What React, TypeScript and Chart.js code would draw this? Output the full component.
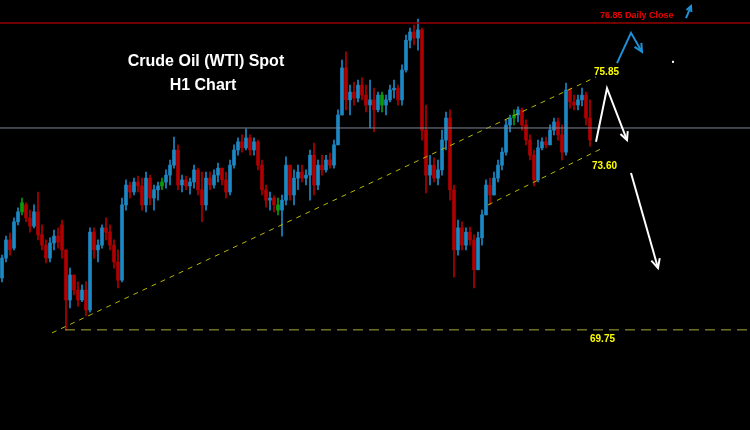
import React, { useEffect, useRef } from "react";
import { Chart, registerables } from "chart.js";

Chart.register(...registerables);

// Hourly candles (WTI spot)
const OPEN = [70.95,71.41,71.83,71.64,72.25,72.48,72.64,72.34,72.15,72.48,71.95,71.71,71.41,71.76,71.92,72.18,71.60,70.44,71.02,70.67,70.44,70.67,70.21,72.01,71.60,71.71,72.11,72.01,71.71,71.32,70.90,72.64,73.10,72.94,73.17,73.08,72.64,73.26,72.80,72.99,73.08,73.17,73.33,73.56,73.91,73.10,73.22,73.08,73.17,73.45,72.99,72.64,73.26,73.10,73.33,73.49,73.22,72.94,73.56,73.91,74.10,73.96,74.19,73.91,74.10,73.56,72.99,72.75,72.80,72.64,72.52,72.75,73.56,72.87,73.26,73.40,73.26,73.33,73.79,73.10,73.56,73.45,73.68,73.56,74.03,74.72,75.81,75.07,75.25,75.11,75.41,75.18,74.95,75.07,74.84,75.18,74.95,75.07,75.30,75.34,75.07,75.76,76.45,76.64,76.50,76.69,74.37,73.33,73.56,73.26,73.45,74.14,74.65,72.99,71.60,72.11,71.71,72.01,71.83,71.14,71.88,72.41,73.10,72.87,73.26,73.56,73.86,74.49,74.65,74.72,74.84,74.49,74.14,73.79,73.22,73.96,74.10,74.03,74.37,74.56,74.26,73.86,75.30,75.02,74.95,75.07,75.18,74.65];
const HIGH = [71.48,71.92,71.99,72.34,72.57,72.80,72.69,72.52,72.64,72.94,72.18,71.83,71.88,72.06,72.11,72.29,71.60,71.18,71.02,70.86,70.79,70.86,72.11,72.11,71.83,72.18,72.34,72.18,71.83,71.60,72.80,73.22,73.17,73.26,73.31,73.26,73.40,73.33,73.10,73.17,73.26,73.45,73.68,74.21,74.03,73.33,73.31,73.26,73.56,73.49,73.40,73.40,73.40,73.45,73.61,73.49,73.40,73.68,74.03,74.19,74.26,74.40,74.26,74.19,74.14,73.68,73.10,72.94,72.85,72.80,72.87,73.75,73.56,73.45,73.56,73.56,73.45,73.91,74.07,73.68,73.79,73.79,73.84,74.14,74.84,75.99,76.18,75.41,75.48,75.53,75.58,75.41,75.53,75.34,75.25,75.25,75.18,75.41,75.53,75.41,75.88,76.57,76.73,76.80,76.94,76.73,74.95,73.79,73.73,73.68,74.37,74.79,74.84,73.10,72.29,72.25,72.11,72.13,71.95,72.01,72.52,73.22,73.26,73.40,73.68,73.96,74.61,74.72,74.84,74.91,74.88,74.61,74.26,73.91,74.14,74.19,74.21,74.49,74.65,74.65,74.49,75.46,75.34,75.18,75.18,75.34,75.25,75.07];
const LOW = [70.86,71.32,71.48,71.60,72.18,72.41,72.25,72.01,72.11,71.83,71.60,71.30,71.32,71.60,71.64,71.41,69.75,70.26,70.56,70.30,70.40,70.07,70.16,71.41,71.32,71.64,71.83,71.60,71.18,70.72,70.86,72.52,72.80,72.87,72.94,72.52,72.48,72.64,72.52,72.75,72.99,73.03,73.10,73.49,72.99,72.94,72.99,72.89,73.03,72.87,72.25,72.52,72.99,73.03,73.17,73.10,72.80,72.87,73.49,73.79,73.86,73.91,73.79,73.79,73.45,72.87,72.59,72.52,72.48,72.41,71.92,72.64,72.75,72.64,72.99,73.17,73.10,72.75,72.87,72.99,73.33,73.40,73.49,73.49,74.03,74.72,74.84,74.72,74.95,75.02,75.07,74.79,74.42,74.33,74.79,74.79,74.72,75.02,75.11,74.95,74.95,75.71,76.27,76.34,76.22,74.14,72.92,73.10,73.17,73.10,73.33,73.91,72.75,70.97,71.48,71.60,71.60,71.71,70.72,71.14,71.71,72.41,72.64,72.87,73.17,73.45,73.79,74.33,74.49,74.56,74.37,74.03,73.68,73.08,73.17,73.91,73.96,74.03,74.26,74.14,73.68,73.79,74.88,74.84,74.84,74.93,74.49,74.00];
const CLOSE = [71.41,71.83,71.60,72.25,72.48,72.69,72.34,72.15,72.48,71.95,71.71,71.41,71.76,71.92,71.78,71.60,70.44,71.02,70.67,70.44,70.67,70.21,72.01,71.60,71.71,72.11,72.01,71.71,71.32,70.90,72.64,73.10,72.94,73.17,73.08,72.64,73.26,72.80,72.99,73.08,73.17,73.33,73.56,73.91,73.10,73.22,73.08,73.17,73.45,72.99,72.64,73.26,73.10,73.33,73.49,73.22,72.94,73.56,73.91,74.10,73.96,74.19,73.91,74.10,73.56,72.99,72.75,72.80,72.64,72.52,72.75,73.56,72.87,73.26,73.40,73.26,73.33,73.79,73.10,73.56,73.45,73.68,73.56,74.03,74.72,75.81,75.07,75.25,75.11,75.41,75.18,74.95,75.07,74.84,75.18,74.95,75.07,75.30,75.34,75.07,75.76,76.45,76.64,76.50,76.69,74.37,73.33,73.56,73.26,73.45,74.14,74.65,72.99,71.60,72.11,71.71,72.01,71.83,71.14,71.88,72.41,73.10,72.87,73.26,73.56,73.86,74.49,74.65,74.72,74.84,74.49,74.14,73.79,73.22,73.96,74.10,74.03,74.37,74.56,74.26,73.86,75.30,75.02,74.95,75.07,75.18,74.65,74.14];
const GREEN_BARS = [5, 40, 69, 95, 128];

// Levels
const DAILY_CLOSE = 76.85;
const MID_LEVEL = 74.42;
const TARGET = 69.75;
// Trend lines [index, price]
const MAIN_TREND = [[12.5, 69.68], [148.5, 75.6]];
const CHANNEL_LOW = [[121.5, 72.64], [150.25, 73.96]];
const TARGET_LINE = [[15.75, TARGET], [187, TARGET]];
// Arrows (index, price paths)
const WHITE_ARROW_1 = [[148.5, 74.1], [151.25, 75.34], [156.25, 74.14]];
const WHITE_ARROW_2 = [[157.25, 73.38], [164, 71.18]];
const BLUE_ARROW_1 = [[153.75, 75.92], [157.25, 76.62], [160, 76.18]];
const BLUE_ARROW_2 = [[171, 76.96], [172.25, 77.24]];
const DOT = [167.75, 75.95];

const X_MIN = -0.5;
const X_MAX = 187;
const Y_MIN = 67.434;
const Y_MAX = 77.38;

const UP = "#1c88c4";
const DOWN = "#b00000";
const GREEN = "#0a9a0a";
const FONT = "'Liberation Sans', Arial, sans-serif";

export default function App() {
  const ref = useRef<HTMLCanvasElement | null>(null);

  useEffect(() => {
    if (!ref.current) return;
    const colors = OPEN.map((o, i) =>
      GREEN_BARS.includes(i) ? GREEN : CLOSE[i] >= o ? UP : DOWN
    );
    const wicks = OPEN.map((_, i) => ({ x: i, y: [LOW[i], HIGH[i]] }));
    const bodies = OPEN.map((o, i) => ({
      x: i,
      y: [Math.min(o, CLOSE[i]), Math.max(o, CLOSE[i])],
    }));
    const pts = (arr: number[][]) => arr.map(([x, y]) => ({ x, y }));

    const annot = {
      id: "annot",
      afterDatasetsDraw(chart: any) {
        const ctx = chart.ctx;
        const xs = chart.scales.x;
        const ys = chart.scales.y;
        const px = (v: number) => xs.getPixelForValue(v);
        const py = (v: number) => ys.getPixelForValue(v);
        const arrow = (path: number[][], color: string, w: number, head: number) => {
          ctx.save();
          ctx.strokeStyle = color;
          ctx.lineWidth = w;
          ctx.lineJoin = "miter";
          ctx.beginPath();
          path.forEach(([x, y], k) => {
            if (k === 0) ctx.moveTo(px(x), py(y));
            else ctx.lineTo(px(x), py(y));
          });
          ctx.stroke();
          const [x1, y1] = path[path.length - 2];
          const [x2, y2] = path[path.length - 1];
          const ax = px(x2), ay = py(y2);
          const ang = Math.atan2(ay - py(y1), ax - px(x1));
          ctx.beginPath();
          ctx.moveTo(ax - head * Math.cos(ang - 0.45), ay - head * Math.sin(ang - 0.45));
          ctx.lineTo(ax, ay);
          ctx.lineTo(ax - head * Math.cos(ang + 0.45), ay - head * Math.sin(ang + 0.45));
          ctx.stroke();
          ctx.restore();
        };
        arrow(WHITE_ARROW_1, "#ffffff", 2, 9);
        arrow(WHITE_ARROW_2, "#ffffff", 2, 10);
        arrow(BLUE_ARROW_1, "#1e90d8", 2, 9);
        arrow(BLUE_ARROW_2, "#1e90d8", 2, 6);

        ctx.save();
        ctx.fillStyle = "#ffffff";
        ctx.fillRect(px(DOT[0]) - 1, py(DOT[1]) - 1, 2, 2);

        ctx.textBaseline = "middle";
        ctx.textAlign = "center";
        ctx.font = `bold 16px ${FONT}`;
        ctx.fillText("Crude Oil (WTI) Spot", 206, 62);
        ctx.fillText("H1 Chart", 203, 86);

        ctx.textAlign = "left";
        ctx.fillStyle = "#f00000";
        ctx.font = `bold 9px ${FONT}`;
        ctx.fillText("76.85 Daily Close", 600, 16);

        ctx.fillStyle = "#ffff00";
        ctx.font = `bold 10px ${FONT}`;
        ctx.fillText("75.85", 594, 72);
        ctx.fillText("73.60", 592, 166);
        ctx.fillText("69.75", 590, 339);
        ctx.restore();
      },
    };

    const chart = new Chart(ref.current, {
      type: "bar",
      data: {
        datasets: [
          {
            type: "line",
            data: pts([[X_MIN, DAILY_CLOSE], [X_MAX, DAILY_CLOSE]]),
            borderColor: "#960000",
            borderWidth: 1.5,
            pointRadius: 0,
          },
          {
            type: "line",
            data: pts([[X_MIN, MID_LEVEL], [X_MAX, MID_LEVEL]]),
            borderColor: "#7d8696",
            borderWidth: 1,
            pointRadius: 0,
          },
          {
            type: "line",
            data: pts(TARGET_LINE),
            borderColor: "#a8a838",
            borderWidth: 1,
            borderDash: [10, 6],
            pointRadius: 0,
          },
          {
            type: "line",
            data: pts(MAIN_TREND),
            borderColor: "#b8b800",
            borderWidth: 1,
            borderDash: [5, 5],
            pointRadius: 0,
          },
          {
            type: "line",
            data: pts(CHANNEL_LOW),
            borderColor: "#b8b800",
            borderWidth: 1,
            borderDash: [5, 5],
            pointRadius: 0,
          },
          {
            type: "bar",
            data: bodies as any,
            backgroundColor: colors,
            barThickness: 3,
            grouped: false,
            minBarLength: 1,
          },
          {
            type: "bar",
            data: wicks as any,
            backgroundColor: colors,
            barThickness: 1,
            grouped: false,
          },
        ] as any,
      },
      options: {
        responsive: false,
        animation: false,
        layout: { padding: 0 },
        plugins: { legend: { display: false }, tooltip: { enabled: false }, title: { display: false } },
        scales: {
          x: { type: "linear", min: X_MIN, max: X_MAX, display: false, offset: false },
          y: { type: "linear", min: Y_MIN, max: Y_MAX, display: false },
        },
      },
      plugins: [annot],
    });
    return () => chart.destroy();
  }, []);

  return (
    <div style={{ position: "fixed", left: 0, top: 0, width: 750, height: 430, background: "#000" }}>
      <canvas ref={ref} width={750} height={430} style={{ display: "block" }} />
    </div>
  );
}
